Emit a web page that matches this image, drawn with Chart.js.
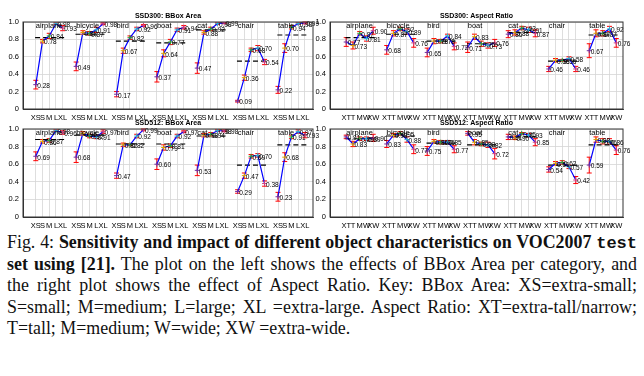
<!DOCTYPE html>
<html>
<head>
<meta charset="utf-8">
<script src="https://cdn.jsdelivr.net/npm/chart.js@4.4.0/dist/chart.umd.min.js"></script>
<style>
  body { margin: 0; background: #fff; width: 644px; height: 376px; overflow: hidden; position: relative; }
  canvas { position: absolute; }
  #cap { position: absolute; left: 7px; top: 232px; width: 630px; font-family: 'Liberation Serif', serif;
         font-size: 17.9px; line-height: 21.2px; color: #111; }
  #cap .ln { text-align: justify; text-align-last: justify; white-space: nowrap; }
  #cap .last { text-align: left; text-align-last: left; }
  #cap code { font-family: 'Liberation Mono', monospace; font-weight: bold; font-size: 17px; }
</style>
</head>
<body>
<canvas id="c1" width="322" height="121" style="left:0;top:0"></canvas>
<canvas id="c2" width="322" height="111" style="left:0;top:119px"></canvas>
<canvas id="c3" width="330" height="121" style="left:314px;top:0"></canvas>
<canvas id="c4" width="330" height="111" style="left:314px;top:119px"></canvas>
<div id="cap">
  <div class="ln">Fig. 4: <b>Sensitivity and impact of different object characteristics on VOC2007 <code>test</code></b></div>
  <div class="ln"><b>set using [21].</b> The plot on the left shows the effects of BBox Area per category, and</div>
  <div class="ln">the right plot shows the effect of Aspect Ratio. Key: BBox Area: XS=extra-small;</div>
  <div class="ln">S=small; M=medium; L=large; XL =extra-large. Aspect Ratio: XT=extra-tall/narrow;</div>
  <div class="ln last">T=tall; M=medium; W=wide; XW =extra-wide.</div>
</div>
<script>
// categories and tick names
const categories = ['airplane', 'bicycle', 'bird', 'boat', 'cat', 'chair', 'table'];
const areaTicks = ['XS', 'S', 'M', 'L', 'XL'];
const ratioTicks = ['XT', 'T', 'M', 'W', 'XW'];

// SSD300: BBox Area
const area300 = [
  [0.28, 0.78, 0.84, 0.98, 0.93],
  [0.49, 0.88, 0.87, 0.91, 0.98],
  [0.17, 0.67, 0.82, 0.92, 0.96],
  [0.37, 0.64, 0.77, 0.91, 0.94],
  [0.47, 0.88, 0.92, 0.98, 0.99],
  [0.09, 0.36, 0.68, 0.70, 0.54],
  [0.22, 0.70, 0.94, 0.98, 0.99]
];
const area300Err = [
  [0.05, 0.02, 0.03, 0.01, 0.03],
  [0.05, 0.02, 0.02, 0.03, 0.01],
  [0.03, 0.03, 0.02, 0.02, 0.01],
  [0.06, 0.04, 0.03, 0.02, 0.02],
  [0.06, 0.02, 0.02, 0.01, 0.005],
  [0.01, 0.03, 0.02, 0.03, 0.03],
  [0.04, 0.05, 0.02, 0.01, 0.01]
];
const area300Avg = [0.82, 0.86, 0.78, 0.76, 0.91, 0.55, 0.85];

// SSD512: BBox Area
const area512 = [
  [0.69, 0.86, 0.87, 0.98, 0.96],
  [0.68, 0.95, 0.92, 0.91, 0.97],
  [0.47, 0.82, 0.82, 0.92, 0.99],
  [0.60, 0.79, 0.81, 0.92, 0.97],
  [0.53, 0.93, 0.94, 0.98, 0.98],
  [0.29, 0.47, 0.69, 0.70, 0.38],
  [0.23, 0.68, 0.91, 0.97, 0.93]
];
const area512Err = [
  [0.05, 0.02, 0.02, 0.01, 0.02],
  [0.06, 0.02, 0.02, 0.02, 0.02],
  [0.03, 0.02, 0.01, 0.02, 0.01],
  [0.06, 0.03, 0.02, 0.02, 0.01],
  [0.06, 0.02, 0.02, 0.01, 0.01],
  [0.02, 0.03, 0.02, 0.02, 0.03],
  [0.05, 0.05, 0.02, 0.02, 0.03]
];
const area512Avg = [0.88, 0.93, 0.83, 0.83, 0.92, 0.59, 0.82];

// SSD300: Aspect Ratio
const ratio300 = [
  [0.77, 0.73, 0.87, 0.81, 0.90],
  [0.68, 0.87, 0.92, 0.89, 0.76],
  [0.65, 0.78, 0.78, 0.84, 0.72],
  [0.71, 0.83, 0.75, 0.73, 0.76],
  [0.86, 0.88, 0.93, 0.91, 0.87],
  [0.46, 0.56, 0.56, 0.58, 0.46],
  [0.67, 0.87, 0.87, 0.92, 0.76]
];
const ratio300Err = [
  [0.05, 0.04, 0.02, 0.03, 0.04],
  [0.05, 0.03, 0.02, 0.03, 0.05],
  [0.05, 0.03, 0.02, 0.02, 0.04],
  [0.06, 0.03, 0.03, 0.03, 0.04],
  [0.04, 0.03, 0.02, 0.03, 0.04],
  [0.03, 0.02, 0.01, 0.02, 0.03],
  [0.08, 0.04, 0.03, 0.03, 0.05]
];
const ratio300Avg = [0.82, 0.86, 0.78, 0.75, 0.88, 0.55, 0.85];

// SSD512: Aspect Ratio
const ratio512 = [
  [0.91, 0.83, 0.89, 0.89, 0.90],
  [0.83, 0.93, 0.95, 0.88, 0.77],
  [0.75, 0.86, 0.85, 0.85, 0.77],
  [0.95, 0.85, 0.83, 0.82, 0.72],
  [0.91, 0.90, 0.95, 0.93, 0.85],
  [0.54, 0.61, 0.62, 0.57, 0.42],
  [0.59, 0.88, 0.86, 0.86, 0.76]
];
const ratio512Err = [
  [0.02, 0.03, 0.02, 0.02, 0.04],
  [0.04, 0.02, 0.02, 0.03, 0.05],
  [0.05, 0.02, 0.02, 0.02, 0.04],
  [0.02, 0.03, 0.02, 0.03, 0.06],
  [0.03, 0.02, 0.01, 0.02, 0.04],
  [0.03, 0.02, 0.02, 0.02, 0.04],
  [0.09, 0.03, 0.03, 0.03, 0.05]
];
const ratio512Avg = [0.89, 0.92, 0.84, 0.82, 0.91, 0.59, 0.82];

const markerColors = ['#7030a0', '#e0a000', '#30a030', '#30b0d0', '#d04080'];
const FONT = 'Liberation Sans';

function makePanel(id, title, ticks, vals, errs, avgs, box) {
  const canvas = document.getElementById(id);
  const pos = (g, i) => g * 6 + i;
  const tickPos = [];
  categories.forEach((c, g) => ticks.forEach((t, i) => tickPos.push(pos(g, i))));

  const datasets = [];
  vals.forEach((row, g) => {
    datasets.push({
      data: row.map((v, i) => ({ x: pos(g, i), y: v })),
      borderColor: '#0000ff', borderWidth: 1.2, tension: 0,
      pointStyle: 'cross', pointRadius: 2.5, pointBorderWidth: 1,
      pointBorderColor: markerColors, pointBackgroundColor: 'transparent',
      order: 1
    });
    datasets.push({
      data: [{ x: pos(g, 0) - 0.1, y: avgs[g] }, { x: pos(g, 4) + 0.6, y: avgs[g] }],
      borderColor: '#000', borderWidth: 1.1, borderDash: [5, 3], pointRadius: 0,
      order: 2
    });
  });

  const extras = {
    id: 'extras',
    beforeDatasetsDraw(chart) {
      const ctx = chart.ctx, x = chart.scales.x, y = chart.scales.y;
      ctx.save();
      ctx.strokeStyle = '#ff0000';
      ctx.lineWidth = 1;
      vals.forEach((row, g) => row.forEach((v, i) => {
        const px = x.getPixelForValue(pos(g, i));
        const lo = y.getPixelForValue(v - errs[g][i]);
        const hi = y.getPixelForValue(v + errs[g][i]);
        ctx.beginPath();
        ctx.moveTo(px, lo); ctx.lineTo(px, hi);
        ctx.moveTo(px - 2.5, lo); ctx.lineTo(px + 2.5, lo);
        ctx.moveTo(px - 2.5, hi); ctx.lineTo(px + 2.5, hi);
        ctx.stroke();
      }));
      ctx.restore();
    },
    afterDatasetsDraw(chart) {
      const ctx = chart.ctx, x = chart.scales.x, y = chart.scales.y, a = chart.chartArea;
      ctx.save();
      // value labels
      ctx.fillStyle = '#000';
      ctx.font = '6.5px ' + FONT;
      ctx.textAlign = 'left';
      ctx.textBaseline = 'middle';
      vals.forEach((row, g) => row.forEach((v, i) => {
        ctx.fillText(v.toFixed(2), x.getPixelForValue(pos(g, i)) + 1.5, y.getPixelForValue(v) + 1.5);
      }));
      // category names
      ctx.font = '7.5px ' + FONT;
      categories.forEach((c, g) => {
        ctx.fillText(c, x.getPixelForValue(pos(g, 0)), y.getPixelForValue(0.95));
      });
      // frame
      ctx.strokeStyle = '#333';
      ctx.lineWidth = 1;
      ctx.strokeRect(a.left, a.top, a.right - a.left, a.bottom - a.top);
      // title
      ctx.font = 'bold 7px ' + FONT;
      ctx.textAlign = 'center';
      ctx.textBaseline = 'alphabetic';
      ctx.fillText(title, (a.left + a.right) / 2, a.top - 4.5);
      ctx.restore();
    }
  };

  new Chart(canvas, {
    type: 'line',
    data: { datasets },
    options: {
      responsive: false,
      animation: false,
      layout: { padding: { top: box.top, right: canvas.width - box.right, left: 0, bottom: 0 } },
      plugins: { legend: { display: false }, tooltip: { enabled: false } },
      scales: {
        x: {
          type: 'linear', min: box.xMin, max: box.xMax,
          afterBuildTicks: s => { s.ticks = tickPos.map(v => ({ value: v })); },
          afterFit: s => { s.height = canvas.height - box.bottom; },
          ticks: {
            autoSkip: false, maxRotation: 0, padding: 4, color: '#000',
            font: { family: FONT, size: 7.5 },
            callback: (v, i) => ticks[i % 5]
          },
          grid: { color: '#d6d6d6', lineWidth: 0.8, drawTicks: false },
          border: { display: true, color: '#333' }
        },
        y: {
          min: 0, max: 1,
          afterFit: s => { s.width = box.left; },
          ticks: { stepSize: 0.2, padding: 4, color: '#000', font: { family: FONT, size: 7.5 } },
          grid: { color: '#d6d6d6', lineWidth: 0.8, drawTicks: false },
          border: { display: true, color: '#333' }
        }
      }
    },
    plugins: [extras]
  });
}

makePanel('c1', 'SSD300: BBox Area', areaTicks, area300, area300Err, area300Avg,
  { left: 23, right: 313, top: 22, bottom: 109, xMin: -1.9, xMax: 41.2 });
makePanel('c2', 'SSD512: BBox Area', areaTicks, area512, area512Err, area512Avg,
  { left: 23, right: 313, top: 10, bottom: 98, xMin: -1.9, xMax: 41.2 });
makePanel('c3', 'SSD300: Aspect Ratio', ratioTicks, ratio300, ratio300Err, ratio300Avg,
  { left: 16, right: 309, top: 22, bottom: 109, xMin: -2.4, xMax: 41 });
makePanel('c4', 'SSD512: Aspect Ratio', ratioTicks, ratio512, ratio512Err, ratio512Avg,
  { left: 16, right: 309, top: 10, bottom: 98, xMin: -2.4, xMax: 41 });
</script>
</body>
</html>
